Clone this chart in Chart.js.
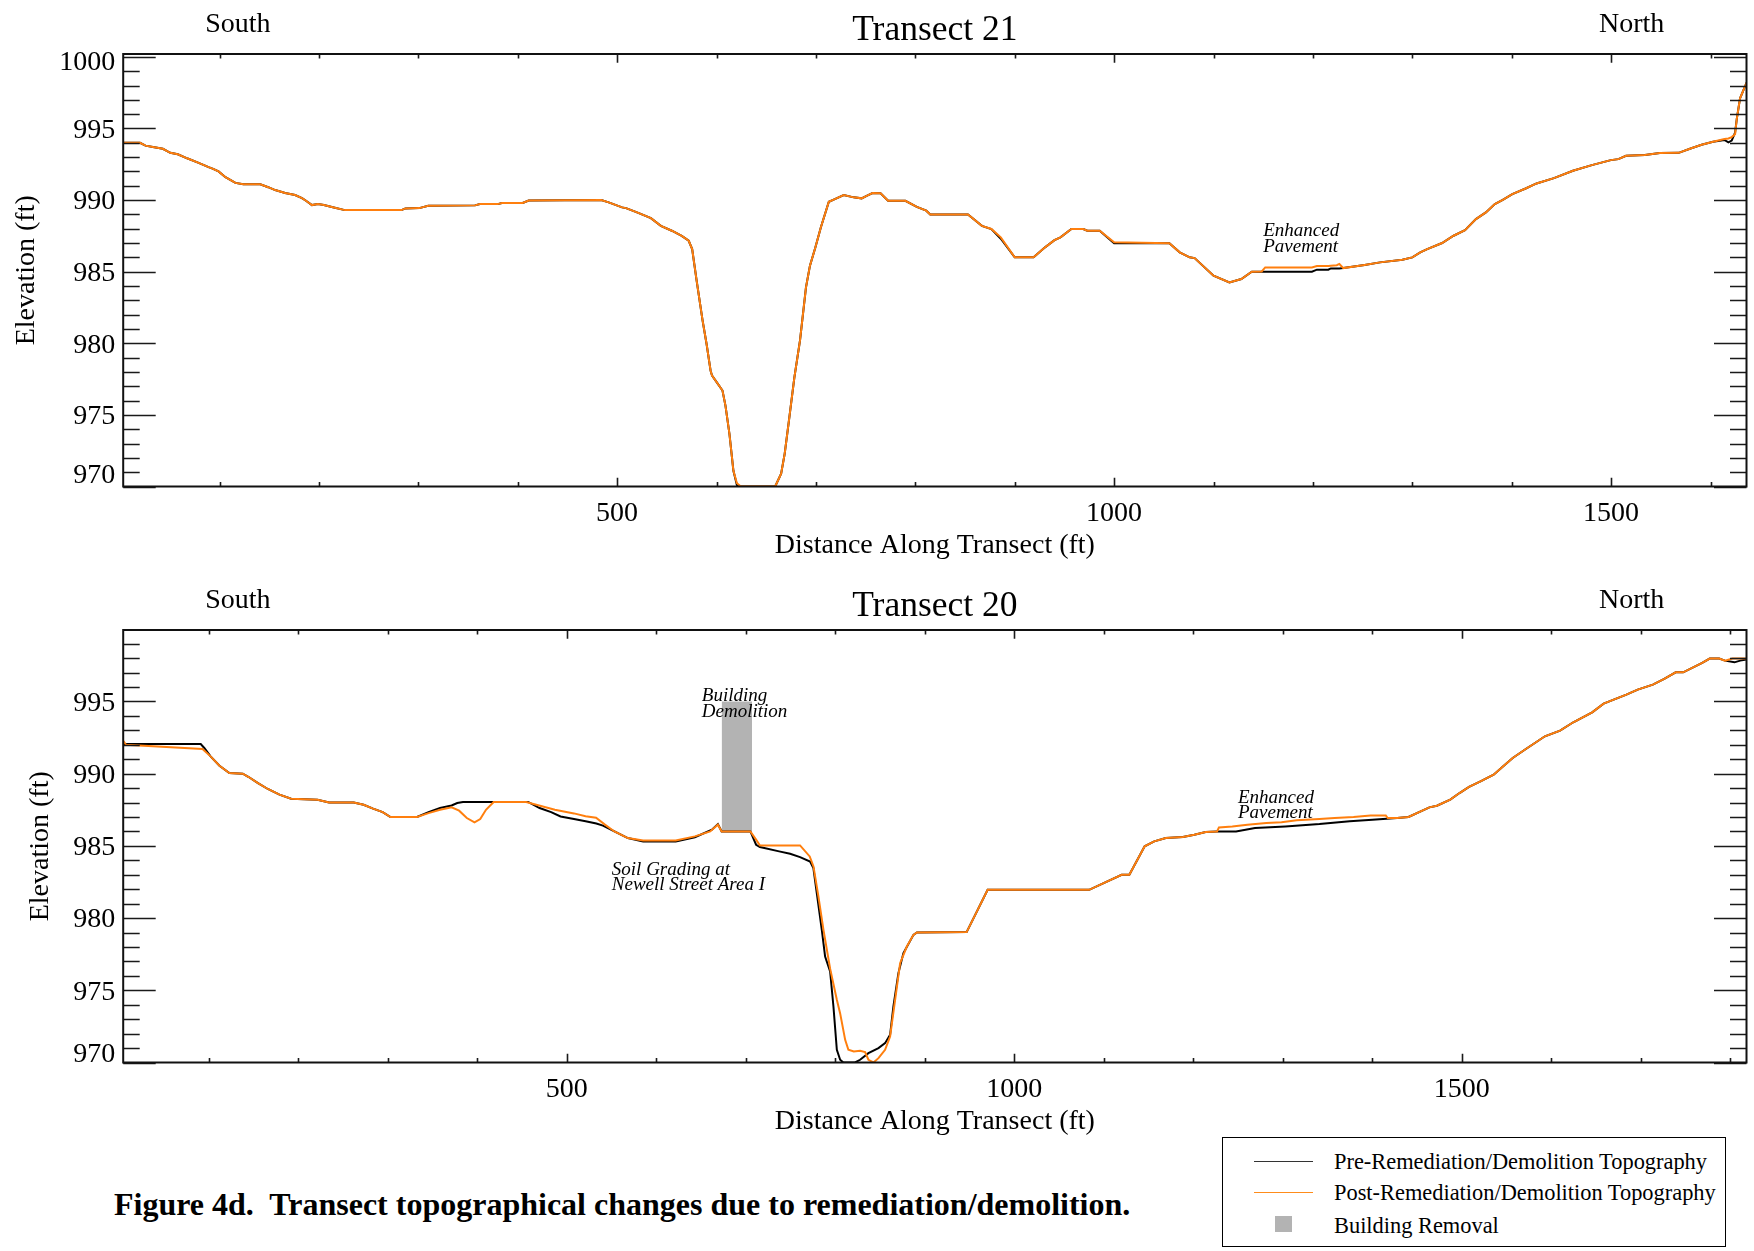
<!DOCTYPE html>
<html>
<head>
<meta charset="utf-8">
<script src="https://cdn.jsdelivr.net/npm/chart.js@4.4.1/dist/chart.umd.min.js"></script>
<style>
  html, body { margin: 0; padding: 0; background: #fff; }
  body { width: 1754px; height: 1251px; position: relative; overflow: hidden;
         font-family: "Liberation Serif", "Times New Roman", serif; color: #000; }
  canvas { position: absolute; left: 0; }
  #c21 { top: 0; }
  #c20 { top: 576px; }
  #caption { position: absolute; left: 114px; top: 1188px; font-size: 32px; line-height: 32px;
             font-weight: bold; white-space: pre; }
  #legend { position: absolute; left: 1222px; top: 1137px; width: 502px; height: 108px;
            border: 1.5px solid #000; background: #fff; z-index: 2; }
  .lrow { position: absolute; left: 111px; font-size: 22.4px; line-height: 22px; white-space: nowrap; }
  .lline { position: absolute; left: 31px; width: 59px; height: 0; }
  .lbox { position: absolute; left: 52px; width: 17px; height: 16px; background: #b3b3b3; }
</style>
</head>
<body>
<canvas id="c21" width="1754" height="570"></canvas>
<canvas id="c20" width="1754" height="570"></canvas>

<div id="caption">Figure 4d.  Transect topographical changes due to remediation/demolition.</div>

<div id="legend">
  <div class="lline" style="top:23px;border-top:1.5px solid #333;"></div>
  <div class="lrow" style="top:13px;">Pre-Remediation/Demolition Topography</div>
  <div class="lline" style="top:54px;border-top:1.5px solid #ff8c1a;"></div>
  <div class="lrow" style="top:44px;">Post-Remediation/Demolition Topography</div>
  <div class="lbox" style="top:78px;"></div>
  <div class="lrow" style="top:77px;">Building Removal</div>
</div>

<script>
// ---------------- DATA ----------------
// Transect 21: distance (ft) and elevations (ft)
const T21_X = [3.1, 20, 25.5, 33, 43, 50.5, 58, 68, 79, 89, 93, 99, 106, 116, 124, 141, 149, 156, 166, 176,
  183, 187, 193, 199, 205, 214, 226, 283, 287, 301, 310, 357, 362, 380, 384, 405, 411, 484, 491.5, 505,
  509, 520, 534, 544, 555, 565, 572, 575.5, 580, 586, 590, 594, 595.5, 601, 606, 609, 613, 617, 620.5, 624.5,
  659, 665, 668.6, 672.5, 678.3, 684, 690, 694, 699.5, 705, 713, 719, 728, 738, 746, 751, 757, 765, 772.6, 790,
  801.5, 811, 815, 853, 867, 876.5, 886, 900, 919, 930.5, 940, 946, 957, 969, 973, 985.5, 1000, 1055.6, 1066, 1076,
  1081, 1100, 1116, 1128, 1138.5, 1148.5, 1152, 1199, 1204, 1215.5, 1218, 1224, 1226.6, 1230.6, 1252, 1267.5,
  1290, 1300, 1308, 1315, 1330, 1341.5, 1353, 1364, 1374, 1383, 1391, 1400.6, 1414, 1425, 1442.5, 1461.6,
  1480.6, 1499.7, 1507.3, 1515, 1534, 1549, 1568, 1580, 1591, 1602.6, 1614, 1618, 1621.3, 1624.7, 1626.4,
  1629.7, 1636.3];
const T21_PRE = [994.0, 994.0, 993.8, 993.7, 993.58, 993.3, 993.2, 992.9, 992.6, 992.3, 992.2, 992.0, 991.6, 991.2, 991.1, 991.1, 990.9, 990.7, 990.5, 990.35,
  990.14, 989.95, 989.65, 989.72, 989.65, 989.5, 989.3, 989.3, 989.42, 989.44, 989.6, 989.63, 989.72, 989.72, 989.8, 989.8, 989.97, 990.0, 989.84, 989.49,
  989.44, 989.14, 988.74, 988.2, 987.86, 987.5, 987.16, 986.58, 984.37, 981.58, 979.95, 978.1, 977.74, 977.2, 976.7, 975.65, 973.67, 971.1, 970.1, 970.0,
  970.0, 970.9, 972.3, 974.4, 977.6, 980.2, 983.9, 985.42, 986.7, 988.1, 989.88, 990.07, 990.35, 990.19, 990.12, 990.3, 990.49, 990.47, 989.95, 989.95,
  989.53, 989.26, 989.0, 989.0, 988.2, 987.98, 987.3, 986.0, 986.0, 986.7, 987.2, 987.4, 987.98, 987.98, 987.86, 987.86, 986.98, 986.98, 986.35, 986.0,
  985.95, 984.72, 984.25, 984.49, 985.0, 985.0, 985.0, 985.0, 985.14, 985.14, 985.23, 985.23, 985.23, 985.25, 985.47, 985.65,
  985.84, 986.0, 986.35, 986.58, 987.0, 987.51, 987.9, 988.67, 989.14, 989.72, 990.02, 990.42, 990.81, 991.16, 991.53, 992.05,
  992.44, 992.79, 992.86, 993.09, 993.14, 993.28, 993.3, 993.6, 993.86, 994.07, 994.2, 994.03, 994.15, 994.7, 995.66,
  997.1, 998.2];
const T21_POST = [994.0, 994.0, 993.8, 993.7, 993.58, 993.3, 993.2, 992.9, 992.6, 992.3, 992.2, 992.0, 991.6, 991.2, 991.1, 991.1, 990.9, 990.7, 990.5, 990.35,
  990.14, 989.95, 989.65, 989.72, 989.65, 989.5, 989.3, 989.3, 989.42, 989.44, 989.6, 989.63, 989.72, 989.72, 989.8, 989.8, 989.97, 990.0, 989.84, 989.49,
  989.44, 989.14, 988.74, 988.2, 987.86, 987.5, 987.16, 986.58, 984.37, 981.58, 979.95, 978.1, 977.74, 977.2, 976.7, 975.65, 973.67, 971.1, 970.23, 970.0,
  970.0, 970.9, 972.3, 974.4, 977.6, 980.2, 983.9, 985.42, 986.7, 988.1, 989.88, 990.07, 990.35, 990.19, 990.12, 990.3, 990.49, 990.47, 989.95, 989.95,
  989.53, 989.26, 989.0, 989.0, 988.2, 987.98, 987.4, 986.0, 986.0, 986.7, 987.2, 987.4, 987.98, 987.98, 987.86, 987.86, 987.05, 986.98, 986.35, 986.0,
  985.95, 984.72, 984.25, 984.49, 985.0, 985.02, 985.3, 985.3, 985.4, 985.4, 985.42, 985.45, 985.54, 985.25, 985.47, 985.65,
  985.84, 986.0, 986.35, 986.58, 987.0, 987.51, 987.9, 988.67, 989.14, 989.72, 990.02, 990.42, 990.81, 991.16, 991.53, 992.05,
  992.44, 992.79, 992.86, 993.09, 993.14, 993.28, 993.3, 993.6, 993.86, 994.07, 994.26, 994.3, 994.4, 994.6, 995.66,
  997.1, 998.2];

// Transect 20: pre-remediation profile
const T20_PRE_X = [4.2, 91, 95, 102, 112, 123, 138, 144.6, 155, 166, 179, 192, 221.5, 234.4, 262, 273, 283.6, 294.3, 303, 332.7,
  345.5, 358.4, 371.3, 377.6, 384, 456.8, 469.6, 482.5, 493, 508, 521, 533, 540.4, 553.2, 568.2, 585.3, 621.7, 643.1, 662.2, 668.8,
  673, 705.1, 711.5, 715.8, 737.2, 749.5, 760.6, 771.8, 775.5, 779.3, 784.9, 788.6, 794.2, 797.9, 801.7, 805.4, 809, 822, 827.7, 837,
  848.2, 855.6, 861.2, 864.9, 870.5, 876.1, 887.3, 891.1, 946.7, 970.2, 1083.6, 1119.9, 1128.5, 1145.6, 1156.3, 1169.2, 1188.4, 1201.1, 1213.8, 1226.5,
  1247.7, 1268.9, 1302.8, 1340.9, 1374.7, 1400.1, 1427.7, 1440.4, 1463.7, 1472.1, 1487, 1497.4, 1508, 1520.8, 1535.5, 1546.2, 1556.8, 1571.5, 1592.8, 1609.7,
  1624.5, 1645.6, 1658.4, 1683.8, 1696.5, 1713.4, 1726.1, 1738.9, 1747.3, 1768.5, 1776.9, 1787.5, 1793.9, 1804.5, 1811, 1818];
const T20_PRE_Y = [992.05, 992.05, 991.78, 991.2, 990.55, 990.05, 990.0, 989.77, 989.35, 988.94, 988.55, 988.27, 988.2, 988.01, 988.01, 987.85, 987.58, 987.34, 987.0, 987.0,
  987.34, 987.62, 987.8, 987.97, 988.04, 988.04, 987.62, 987.34, 987.04, 986.86, 986.7, 986.55, 986.4, 986.0, 985.54, 985.31, 985.31, 985.6, 986.12, 986.51,
  986.0, 986.0, 985.08, 984.92, 984.62, 984.45, 984.22, 983.92, 983.46, 981.73, 979.19, 977.34, 976.3, 973.88, 970.88, 970.19, 970.0, 970.0, 970.19, 970.65,
  971.0, 971.34, 971.92, 973.88, 976.19, 977.58, 978.84, 979.0, 979.03, 981.96, 981.96, 983.0, 983.0, 984.97, 985.31, 985.54, 985.61, 985.77, 985.96, 986.0,
  986.0, 986.24, 986.35, 986.51, 986.7, 986.81, 986.93, 987.0, 987.67, 987.78, 988.2, 988.66, 989.08, 989.47, 989.93, 990.51, 991.09, 991.71, 992.59, 992.98,
  993.56, 994.25, 994.85, 995.47, 995.82, 996.17, 996.56, 997.02, 997.02, 997.67, 997.97, 997.97, 997.83, 997.71, 997.83, 997.9];

// Transect 20: post-remediation profile
const T20_POST_X = [4.2, 7.6, 93, 102, 112, 123, 138, 144.6, 155, 166, 179, 192, 221.5, 234.4, 262, 273, 283.6, 294.3, 303, 332.7,
  345.5, 358.4, 371.3, 379.7, 388.3, 396.9, 403.3, 409.7, 418.3, 454.6, 486.7, 508, 521, 532.7, 542.6, 553.2, 568.2, 585.3, 621.7, 643.1,
  660.2, 668.8, 673, 705.1, 711.5, 715.8, 760.6, 771.4, 775.6, 781.1, 786.7, 794.2, 801.7, 805.4, 811, 814.6, 820.6, 827.7, 833.3, 837,
  842.6, 848.2, 855.6, 861.2, 866.8, 872.4, 879.9, 887.3, 891.1, 946.7, 970.2, 1083.6, 1119.9, 1128.5, 1145.6, 1156.3, 1169.2, 1188.4, 1201.1, 1213.8,
  1226.5, 1228.6, 1243.5, 1260.4, 1281.6, 1298.5, 1315.5, 1340.9, 1357.8, 1379, 1398, 1415, 1417.1, 1427.7, 1440.4, 1463.7, 1472.1, 1487, 1497.4, 1508,
  1520.8, 1535.5, 1546.2, 1556.8, 1571.5, 1592.8, 1609.7, 1624.5, 1645.6, 1658.4, 1683.8, 1696.5, 1713.4, 1726.1, 1738.9, 1747.3, 1768.5, 1776.9, 1787.5, 1793.9,
  1802.4, 1818];
const T20_POST_Y = [992.29, 992.0, 991.71, 991.2, 990.55, 990.05, 990.0, 989.77, 989.35, 988.94, 988.55, 988.27, 988.2, 988.01, 988.01, 987.85, 987.58, 987.34, 987.0, 987.0,
  987.27, 987.5, 987.67, 987.44, 986.93, 986.63, 986.86, 987.5, 988.04, 988.04, 987.5, 987.25, 987.05, 986.95, 986.47, 986.0, 985.54, 985.38, 985.38, 985.66,
  986.0, 986.47, 986.0, 986.0, 985.43, 985.03, 985.03, 984.27, 983.58, 981.5, 979.2, 976.5, 974.34, 973.4, 971.57, 970.88, 970.76, 970.81, 970.72, 970.19,
  970.0, 970.3, 970.88, 971.8, 974.34, 976.88, 978.03, 978.84, 979.0, 979.03, 981.96, 981.96, 983.0, 983.0, 984.97, 985.31, 985.54, 985.61, 985.77, 985.96,
  986.0, 986.28, 986.35, 986.47, 986.58, 986.63, 986.77, 986.86, 986.93, 987.0, 987.11, 987.11, 986.93, 986.93, 987.0, 987.67, 987.78, 988.2, 988.66, 989.08,
  989.47, 989.93, 990.51, 991.09, 991.71, 992.59, 992.98, 993.56, 994.25, 994.85, 995.47, 995.82, 996.17, 996.56, 997.02, 997.02, 997.67, 997.97, 997.97, 997.83,
  997.97, 997.97];

// Building removal (Transect 20): distance extent and elevation extent
const BUILDING_X = [673, 707];
const BUILDING_Y = [986, 995];

// Axis ranges
const T21_XRANGE = [3.1, 1636.2];
const T21_YRANGE = [970, 1000.2];
const T20_XRANGE = [4.4, 1818];
const T20_YRANGE = [970, 999.95];

const SERIES_NAMES = ['Pre-Remediation/Demolition Topography', 'Post-Remediation/Demolition Topography', 'Building Removal'];

// ---------------- STYLE / LAYOUT ----------------
const FONT = '"Liberation Serif", "Times New Roman", serif';
const ORANGE = '#ff7f0e';
const BLACK = '#000000';
const GRAY = '#b3b3b3';

const zip = (xs, ys) => xs.map((x, i) => ({x, y: ys[i]}));

// Inward tick marks + frame
const frameTicks = {
  id: 'frameTicks',
  afterDatasetsDraw(chart) {
    const {ctx, chartArea: a, scales: {x, y}} = chart;
    ctx.save();
    ctx.strokeStyle = '#1a1a1a';
    ctx.lineWidth = 1.6;
    ctx.beginPath();
    x.ticks.forEach(t => {
      const p = Math.round(x.getPixelForValue(t.value)) + 0.5;
      const L = t.value % 500 === 0 ? 8.7 : 4.6;
      ctx.moveTo(p, a.bottom); ctx.lineTo(p, a.bottom - L);
      ctx.moveTo(p, a.top); ctx.lineTo(p, a.top + L);
    });
    y.ticks.forEach(t => {
      const p = Math.round(y.getPixelForValue(t.value)) + 0.5;
      const L = t.value % 5 === 0 ? 32.5 : 16.5;
      ctx.moveTo(a.left, p); ctx.lineTo(a.left + L, p);
      ctx.moveTo(a.right, p); ctx.lineTo(a.right - L, p);
    });
    ctx.stroke();
    ctx.lineWidth = 2;
    ctx.strokeStyle = '#111';
    ctx.strokeRect(a.left, a.top, a.right - a.left, a.bottom - a.top);
    ctx.restore();
  }
};

// Headings (South / title / North) and italic notes
const texts = {
  id: 'texts',
  afterDraw(chart, args, opts) {
    const {ctx, chartArea: a, scales: {x, y}} = chart;
    ctx.save();
    ctx.fillStyle = '#000';
    ctx.textBaseline = 'alphabetic';
    ctx.textAlign = 'center';
    ctx.font = '28px ' + FONT;
    ctx.fillText(opts.left, a.left + 114.7, 32);
    ctx.fillText(opts.right, a.right - 114.8, 32);
    ctx.font = '35.5px ' + FONT;
    ctx.fillText(opts.title, (a.left + a.right) / 2, 39.5);
    ctx.textAlign = 'left';
    ctx.font = 'italic 19px ' + FONT;
    (opts.notes || []).forEach(n => {
      const px = x.getPixelForValue(n.x);
      const py = y.getPixelForValue(n.y);
      n.lines.forEach((ln, i) => ctx.fillText(ln, px, py + i * 15.7));
    });
    ctx.restore();
  }
};

// Y tick label with a small vertical nudge (in px, + = down), done with 2px blank lines
function nudgedLabel(text, shift) {
  const out = [];
  const before = Math.max(0, shift), after = Math.max(0, -shift);
  for (let i = 0; i < before; i++) out.push('');
  out.push(text);
  for (let i = 0; i < after; i++) out.push('');
  return out;
}

function makeChart(id, datasets, xr, yr, title, yTitlePad, notes, shifts) {
  return new Chart(document.getElementById(id), {
    type: 'line',
    data: {datasets},
    options: {
      responsive: false,
      animation: false,
      devicePixelRatio: 1,
      layout: {padding: {top: 54, right: 7.5, left: 0, bottom: 0}},
      elements: {point: {radius: 0}, line: {tension: 0}},
      plugins: {
        legend: {display: false},
        tooltip: {enabled: false},
        texts: {title, left: 'South', right: 'North', notes}
      },
      scales: {
        x: {
          type: 'linear', min: xr[0], max: xr[1],
          afterBuildTicks: s => {
            const t = [];
            for (let v = Math.ceil(s.min / 100) * 100; v <= s.max; v += 100) t.push({value: v});
            s.ticks = t;
          },
          afterFit: s => { s.height = 83.5; },
          grid: {display: false, drawTicks: false},
          border: {display: false},
          ticks: {
            autoSkip: false, maxRotation: 0, padding: 10, color: '#000',
            font: {family: FONT, size: 28},
            callback: v => (v % 500 === 0 ? String(v) : '')
          },
          title: {display: true, text: 'Distance Along Transect (ft)', color: '#000',
                  font: {family: FONT, size: 28}, padding: {top: 0, bottom: 7.4}}
        },
        y: {
          type: 'linear', min: yr[0], max: yr[1],
          afterBuildTicks: s => {
            const t = [];
            for (let v = Math.ceil(s.min); v <= s.max; v += 1) t.push({value: v});
            s.ticks = t;
          },
          afterFit: s => { s.width = 123.2; },
          grid: {display: false, drawTicks: false},
          border: {display: false},
          ticks: {
            autoSkip: false, padding: 8, color: '#000',
            font: {family: FONT, size: 28, lineHeight: 2 / 28},
            callback: v => (v % 5 === 0 ? nudgedLabel(String(v), shifts[v] !== undefined ? shifts[v] : 2) : '')
          },
          title: {display: true, text: 'Elevation (ft)', color: '#000',
                  font: {family: FONT, size: 28}, padding: {top: yTitlePad, bottom: 0}}
        }
      }
    },
    plugins: [frameTicks, texts]
  });
}

makeChart('c21', [
  {label: SERIES_NAMES[1], data: zip(T21_X, T21_POST), borderColor: ORANGE, borderWidth: 2, order: 1, fill: false},
  {label: SERIES_NAMES[0], data: zip(T21_X, T21_PRE), borderColor: BLACK, borderWidth: 2, order: 2, fill: false}
], T21_XRANGE, T21_YRANGE, 'Transect 21', 10.2, [
  {x: 1150, y: 987.5, lines: ['Enhanced', 'Pavement']}
], {1000: 6, 970: -11});

makeChart('c20', [
  {label: SERIES_NAMES[1], data: zip(T20_POST_X, T20_POST_Y), borderColor: ORANGE, borderWidth: 2, order: 1, fill: false},
  {label: SERIES_NAMES[0], data: zip(T20_PRE_X, T20_PRE_Y), borderColor: BLACK, borderWidth: 2, order: 2, fill: false},
  {label: SERIES_NAMES[2], data: BUILDING_X.map(x => ({x, y: BUILDING_Y[1]})),
   borderWidth: 0, borderColor: GRAY, backgroundColor: GRAY, fill: {value: BUILDING_Y[0]}, order: 3}
], T20_XRANGE, T20_YRANGE, 'Transect 20', 24.2, [
  {x: 650.8, y: 995.0, lines: ['Building', 'Demolition']},
  {x: 550.3, y: 983.0, lines: ['Soil Grading at', 'Newell Street Area I']},
  {x: 1249.8, y: 988.0, lines: ['Enhanced', 'Pavement']}
], {970: -8});
</script>
</body>
</html>
